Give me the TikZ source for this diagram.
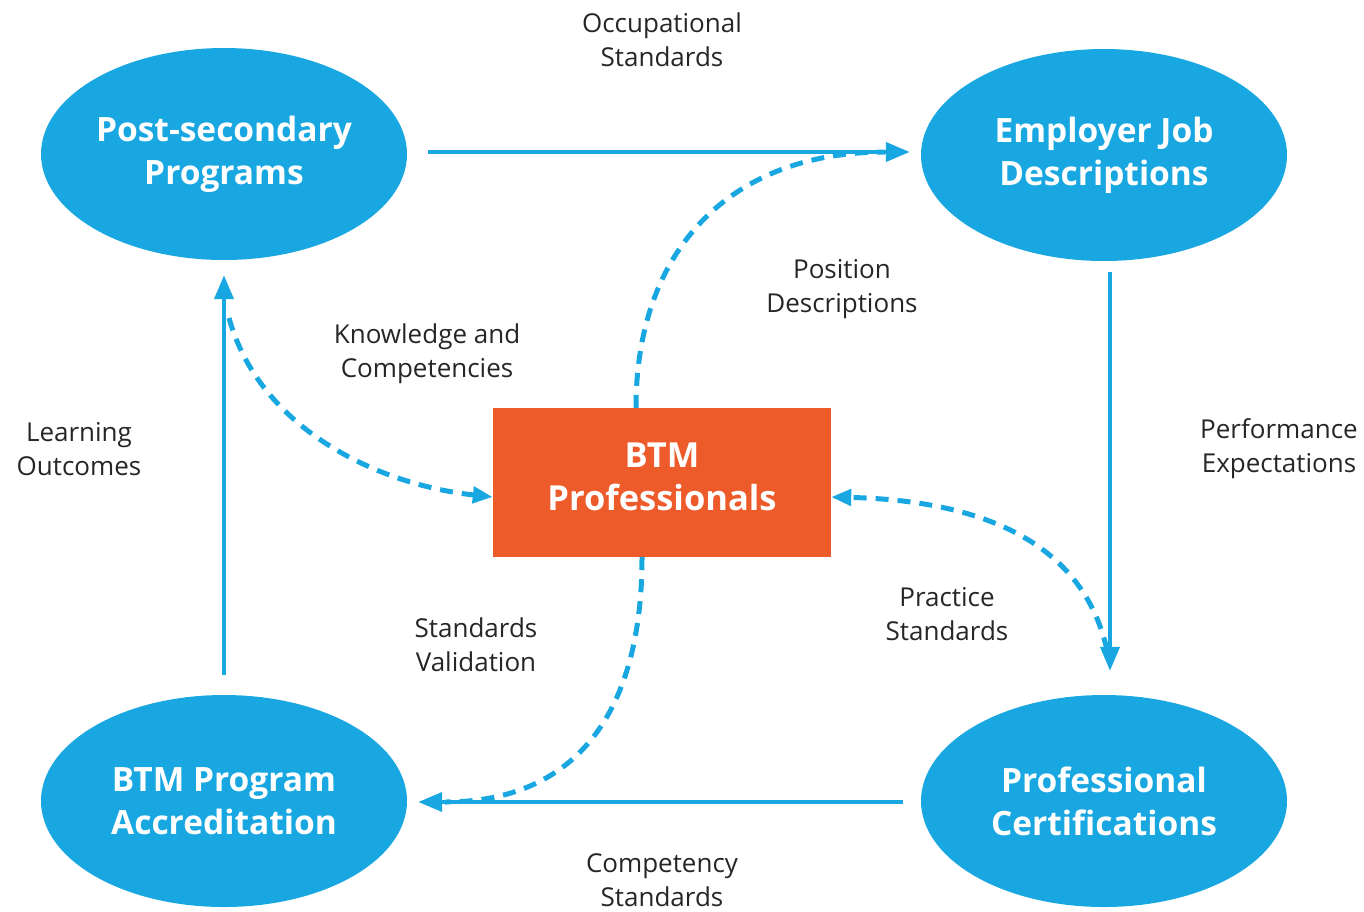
\documentclass[tikz,border=0pt]{standalone}
\usepackage{fontspec}
\setmainfont{Open Sans}
\usetikzlibrary{arrows.meta,shapes.geometric,calc}
\definecolor{cblue}{HTML}{19A7E1}
\definecolor{corange}{HTML}{EE5B2B}
\tikzset{
  ell/.style={ellipse, fill=cblue, draw=none, minimum width=366pt, minimum height=212pt, inner sep=0pt,
    text=white, align=center, font=\fontsize{33.5}{43}\selectfont\bfseries},
  pbox/.style={rectangle, fill=corange, draw=none, minimum width=338pt, minimum height=149pt, inner sep=0pt,
    text=white, align=center, text depth=12pt, font=\fontsize{34.5}{43}\selectfont\bfseries},
  lbl/.style={align=center, font=\fontsize{26}{34}\selectfont, text=black!85},
  solidarrow/.style={draw=cblue, line width=4pt, -{Triangle[length=24pt,width=19pt]}},
  dasharrow/.style={draw=cblue, line width=5pt, dash pattern=on 13pt off 9pt, -{Triangle[length=20pt,width=16pt]}},
  dashline/.style={draw=cblue, line width=5pt, dash pattern=on 13pt off 9pt},
}
\begin{document}
\begin{tikzpicture}[x=1pt,y=-1pt]
\useasboundingbox (0,0) rectangle (1364,911);
% nodes
\node[ell] (ps) at (224,154) {Post-secondary\\Programs};
\node[ell] (ej) at (1104,155) {Employer Job\\Descriptions};
\node[ell] (bpa) at (224,801) {BTM Program\\Accreditation};
\node[ell] (pc) at (1104,801) {Professional\\Certifications};
\node[pbox] (btm) at (662,482.5) {BTM\\Professionals};
% labels
\node[lbl] (l1) at (662,40) {Occupational\\Standards};
\node[lbl] (l2) at (842,289) {Position\\Descriptions};
\node[lbl] (l3) at (427,354) {Knowledge and\\Competencies};
\node[lbl] (l4) at (79,449) {Learning\\Outcomes};
\node[lbl] (l5) at (1279,449) {Performance\\Expectations};
\node[lbl] (l6) at (947,614) {Practice\\Standards};
\node[lbl] (l7) at (476,645) {Standards\\Validation};
\node[lbl] (l8) at (662,880) {Competency\\Standards};
% coordinates for dashed curve ends
\coordinate (pdend) at (885,152);
\coordinate (svend) at (445,802);
\coordinate (kstart) at (229,318);
\coordinate (pstart) at (1107,650);
% dashed curves (drawn first)
\draw[dashline] ([xshift=-26pt]btm.north) .. controls (636,250) and (730,152) .. (pdend);
\draw[dashline] ([xshift=-20pt]btm.south) .. controls (642,720) and (570,802) .. (svend);
\draw[dasharrow] (kstart) .. controls (260,430) and (380,485) .. ([yshift=-14.5pt]btm.west);
\draw[dasharrow] (pstart) .. controls (1080,530) and (960,500) .. ([yshift=-14.5pt]btm.east);
% solid arrows
\draw[solidarrow, shorten <=21pt, shorten >=11pt] ([yshift=2pt]ps.east) -- ([yshift=2pt]ps.east -| ej.west);
\draw[solidarrow, shorten <=11pt, shorten >=24pt] ([xshift=6pt]ej.south) -- ([xshift=6pt]pc.north);
\draw[solidarrow, shorten <=18pt, shorten >=11pt] ([yshift=-1pt]pc.west) -- ([yshift=-1pt]pc.west -| bpa.east);
\draw[solidarrow, shorten <=20pt, shorten >=15pt] (bpa.north) -- (ps.south);
\end{tikzpicture}
\end{document}
